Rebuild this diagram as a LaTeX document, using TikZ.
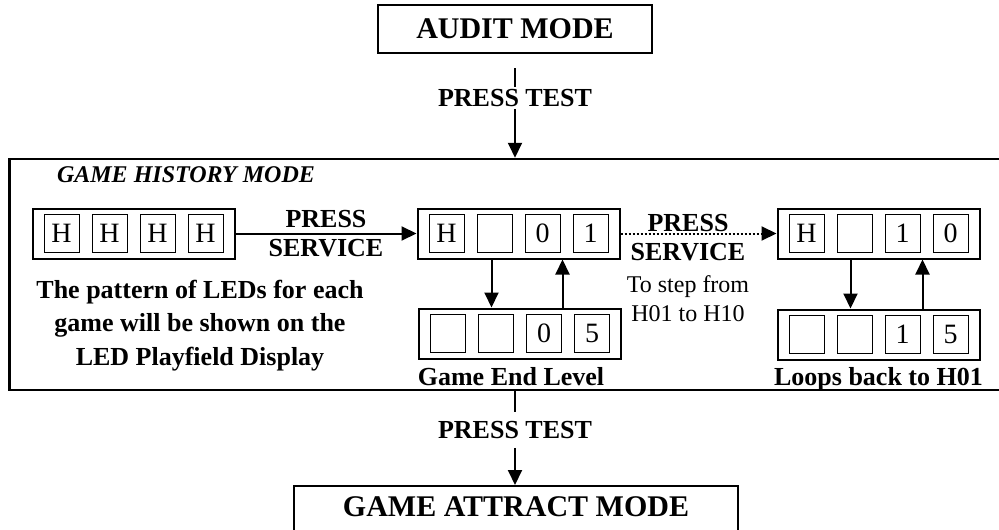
\documentclass[tikz,border=0pt]{standalone}
\usepackage{fontspec}
\setmainfont{Liberation Serif}
\usepackage{tikz}
\usetikzlibrary{calc}
\usetikzlibrary{positioning}
\usetikzlibrary{arrows.meta}

% one LED display: name, centre, four digits
\newcommand{\leddisplay}[6]{%
  \node[disp] (#1) at (#2) {};
  \node[cell] (#1a) at ($(#1)+(-72,0)$) {#3};
  \node[cell] (#1b) at ($(#1)+(-24,0)$) {#4};
  \node[cell] (#1c) at ($(#1)+(24,0)$) {#5};
  \node[cell] (#1d) at ($(#1)+(72,0)$) {#6};
}

\begin{document}
\begin{tikzpicture}[x = 1pt, y = -1pt,
  mode/.style = {draw, line width = 2pt, font = \fontsize{30}{34}\selectfont\bfseries},
  lbl/.style = {inner sep = 2pt, align = center, font = \fontsize{26}{29}\selectfont\bfseries},
  disp/.style = {draw, line width = 2pt, minimum width = 202pt, minimum height = 50pt, inner sep = 0pt},
  cell/.style = {draw, line width = 0.9pt, minimum width = 35pt, minimum height = 38pt, inner sep = 0pt, font = \fontsize{28}{30}\selectfont},
  arr/.style = {line width = 2pt, -{Triangle[length = 15pt, width = 14pt]}}]
 \useasboundingbox (0, 0) rectangle (999, 530);
 % outer modes
 \node [mode, minimum width = 274pt, minimum height = 48pt] (audit) at (515, 29) {AUDIT MODE};
 \node [mode, anchor = north, minimum width = 444pt, inner ysep = 0pt, text height = 30pt, text depth = 30pt] (attract) at (516, 485) {GAME ATTRACT MODE};
 \node [draw, line width = 2.5pt, minimum width = 992pt, minimum height = 231pt, inner sep = 0pt] (hist) at (505.5, 274.5) {};
 \node [font = \fontsize{24}{28}\selectfont\bfseries\itshape] (histlbl) at (186, 175) {GAME HISTORY MODE};
 % press test in and out
 \node [lbl, inner ysep = 2pt] (test1) at (515, 98) {PRESS TEST};
 \node [lbl, inner ysep = 9pt] (test2) at (515, 430) {PRESS TEST};
 \draw [line width = 2pt] ([yshift = -14pt]audit.south) -- (test1.north);
 \draw [arr] (test1.south) -- (test1.south |- hist.north);
 \draw [line width = 2pt] (test2.north |- hist.south) -- (test2.north);
 \draw [arr] (test2.south) -- (test2.south |- attract.north);
 % displays
 \leddisplay{d1}{133.5, 233.5}{H}{H}{H}{H}
 \leddisplay{d2}{518.5, 233.5}{H}{}{0}{1}
 \leddisplay{d3}{520, 333.5}{}{}{0}{5}
 \leddisplay{d4}{878.5, 233.5}{H}{}{1}{0}
 \leddisplay{d5}{878.5, 334.5}{}{}{1}{5}
 \draw [arr] (d1) -- (d2) node [lbl, midway] {PRESS\\SERVICE};
 \draw [arr, dotted] (d2) -- (d4);
 \node [lbl] (svc2) at (688, 237.5) {PRESS\\SERVICE};
 \node [below = 10pt of svc2, inner sep = 2pt, align = center, font = \fontsize{24}{29}\selectfont] (stepnote) {To step from\\H01 to H10};
 \draw [arr] ([xshift = -27pt]d2.south) -- ([xshift = -27pt]d2.south |- d3.north);
 \draw [arr] ([xshift = 44pt]d2.south |- d3.north) -- ([xshift = 44pt]d2.south);
 \draw [arr] ([xshift = -28pt]d4.south) -- ([xshift = -28pt]d4.south |- d5.north);
 \draw [arr] ([xshift = 44pt]d4.south |- d5.north) -- ([xshift = 44pt]d4.south);
 % captions
 \node [lbl, below = 6pt of d3, xshift = -9pt] (endlvl) {Game End Level};
 \node [lbl, below = 5pt of d5] (loops) {Loops back to H01};
 \node [lbl, font = \fontsize{26}{33.5}\selectfont\bfseries] (pattern) at (200, 325.4) {The pattern of LEDs for each\\game will be shown on the\\LED Playfield Display};
\end{tikzpicture}
\end{document}
